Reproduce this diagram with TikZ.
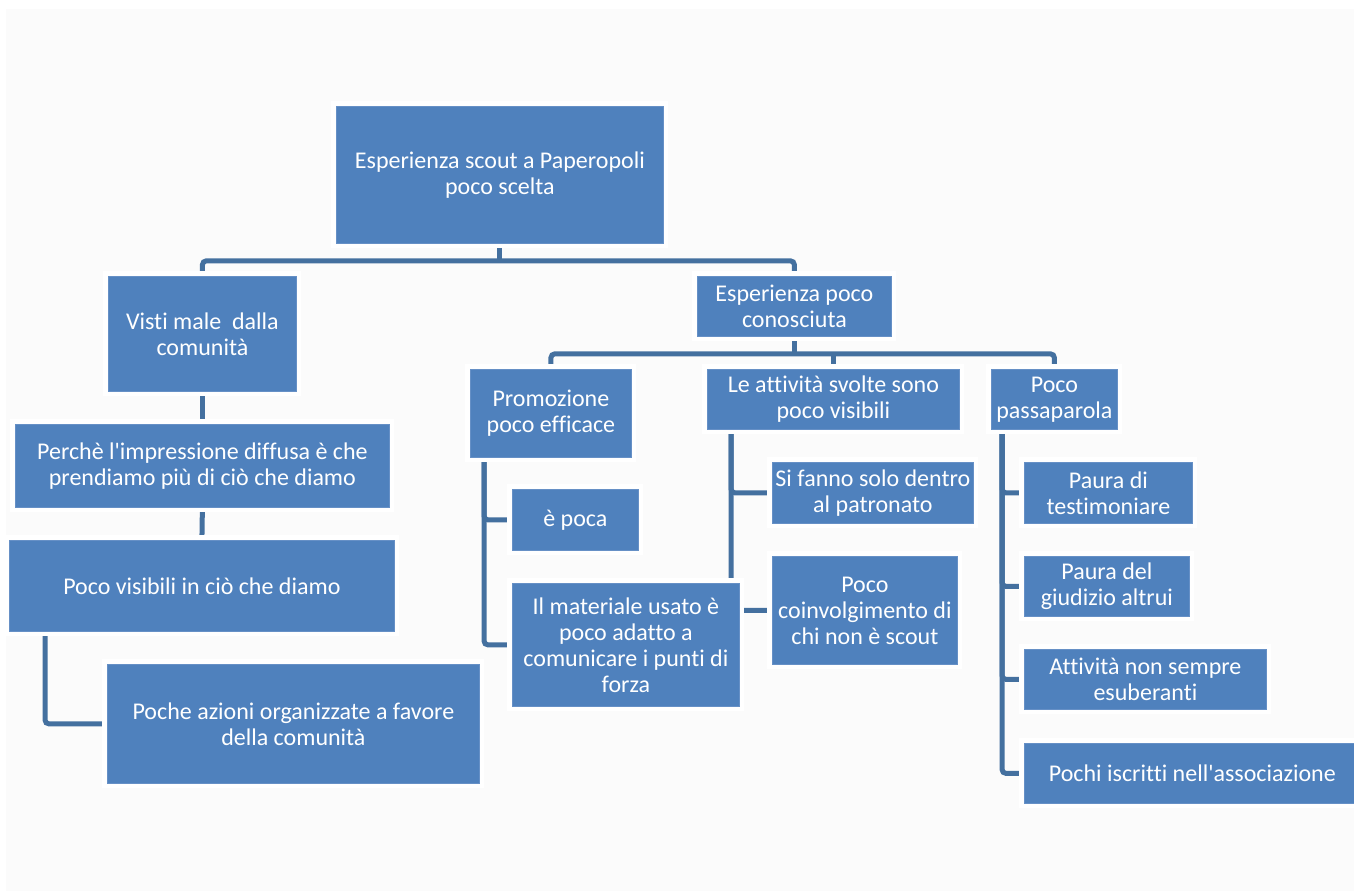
\documentclass[tikz,border=0pt]{standalone}
\usepackage{fontspec}
\setmainfont{Carlito}[Ligatures={TeXOff,CommonOff}]
\pgfdeclarelayer{back}
\pgfdeclarelayer{lines}
\pgfsetlayers{back,lines,main}
\definecolor{boxblue}{HTML}{4F81BD}
\definecolor{boxedge}{HTML}{6690C6}
\definecolor{linecol}{HTML}{44709F}
\definecolor{panel}{HTML}{FBFBFB}
\tikzset{
  box/.style={rectangle, fill=boxblue, draw=boxedge, line width=0.8pt,
    text=white, align=center, inner sep=0pt, anchor=north west,
    font=\fontsize{24}{26}\selectfont,
    preaction={draw=white, line width=10pt}},
  conn/.style={draw=linecol, line width=5pt, rounded corners=4pt}
}
\begin{document}
\begin{tikzpicture}[x=1pt,y=-1pt]
\useasboundingbox (0,0) rectangle (1354,891);
\begin{pgfonlayer}{back}
  \fill[white] (0,0) rectangle (1354,891);
  \fill[panel] (6,9) rectangle (1354,891);
\end{pgfonlayer}

% nodes
\node[box, minimum width=327pt, minimum height=137pt] (top) at (336,106) {Esperienza scout a Paperopoli\\poco scelta};
\node[box, minimum width=188pt, minimum height=115pt] (visti) at (108,276) {Visti male\ \ dalla\\comunità};
\node[box, minimum width=194pt, minimum height=60pt] (esp) at (697,276) {Esperienza poco\\conosciuta};
\node[box, minimum width=374pt, minimum height=83pt] (perche) at (15,424) {Perchè l'impressione diffusa è che\\prendiamo più di ciò che diamo};
\node[box, minimum width=385pt, minimum height=91pt] (visib) at (9,540) {Poco visibili in ciò che diamo};
\node[box, minimum width=372pt, minimum height=119pt] (poche) at (107,664) {Poche azioni organizzate a favore\\della comunità};
\node[box, minimum width=161pt, minimum height=88pt] (promo) at (470,369) {Promozione\\poco efficace};
\node[box, minimum width=252pt, minimum height=60pt] (att) at (707,369) {Le attività svolte sono\\poco visibili};
\node[box, minimum width=126pt, minimum height=60pt] (pp) at (991,369) {Poco\\passaparola};
\node[box, minimum width=126pt, minimum height=61pt] (poca) at (512,489) {è poca};
\node[box, minimum width=227pt, minimum height=123pt] (mat) at (512,583) {Il materiale usato è\\poco adatto a\\comunicare i punti di\\forza};
\node[box, minimum width=201pt, minimum height=61pt] (si) at (772,462) {Si fanno solo dentro\\al patronato};
\node[box, minimum width=185pt, minimum height=108pt] (coinv) at (772,556) {Poco\\coinvolgimento di\\chi non è scout};
\node[box, minimum width=168pt, minimum height=61pt] (pt) at (1024,462) {Paura di\\testimoniare};
\node[box, minimum width=165pt, minimum height=60pt] (pg) at (1024,556) {Paura del\\giudizio altrui};
\node[box, minimum width=242pt, minimum height=60pt] (an) at (1024,649) {Attività non sempre\\esuberanti};
\node[box, minimum width=336pt, minimum height=60pt] (pi) at (1024,743) {Pochi iscritti nell'associazione};

% connectors
\begin{pgfonlayer}{lines}
  \draw[conn] (top.south) -- ([yshift=-17pt]top.south);
  \draw[conn] (visti.north) |- ([yshift=-17pt]top.south) -| (esp.north);
  \draw[conn] (visti.south) -- (perche.north);
  \draw[conn] (perche.south) -- (visib.north);
  \draw[conn] ([xshift=36pt]visib.south west) |- (poche.west);
  \draw[conn] (esp.south) -- ([yshift=-17pt]esp.south);
  \draw[conn] (promo.north) |- ([yshift=-17pt]esp.south) -| (pp.north);
  \draw[conn] (att.north) -- ([yshift=-17pt]esp.south -| att.north);
  \draw[conn] ([xshift=14pt]promo.south west) |- (poca.west);
  \draw[conn] ([xshift=14pt]promo.south west) |- (mat.west);
  \draw[conn] ([xshift=24pt]att.south west) |- (si.west);
  \draw[conn] ([xshift=24pt]att.south west) |- (coinv.west);
  \draw[conn] ([xshift=11pt]pp.south west) |- (pt.west);
  \draw[conn] ([xshift=11pt]pp.south west) |- (pg.west);
  \draw[conn] ([xshift=11pt]pp.south west) |- (an.west);
  \draw[conn] ([xshift=11pt]pp.south west) |- (pi.west);
\end{pgfonlayer}
\end{tikzpicture}
\end{document}
